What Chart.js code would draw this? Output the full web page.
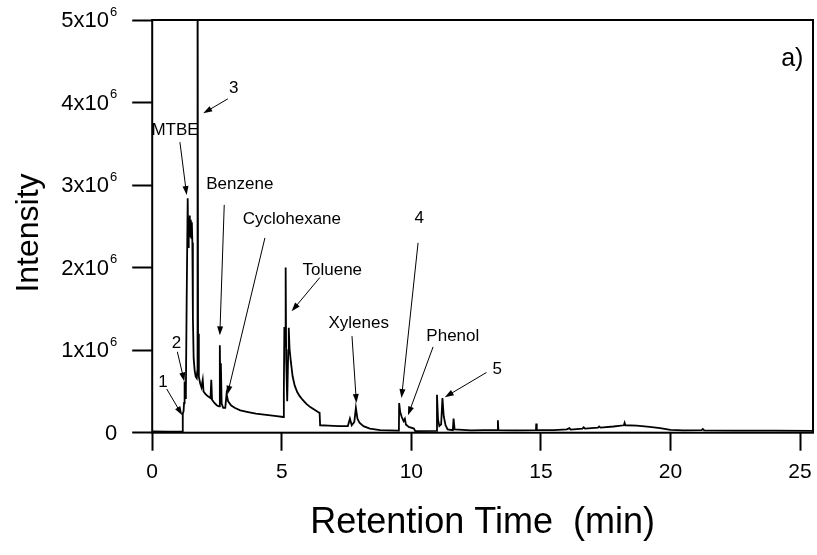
<!DOCTYPE html>
<html>
<head>
<meta charset="utf-8">
<script src="https://cdn.jsdelivr.net/npm/chart.js@4/dist/chart.umd.min.js"></script>
<style>
  html, body { margin: 0; padding: 0; background: #fff; }
  canvas { display: block; }
</style>
</head>
<body>
<canvas id="chart" width="817" height="555"></canvas>
<script>
// GC trace: retention time (min) and detector intensity (counts)
const times = [
  0, 0.6, 1.17, 1.18, 1.21, 1.23, 1.25, 1.27, 1.3, 1.33,
  1.37, 1.39, 1.41, 1.43, 1.45, 1.47, 1.49, 1.51, 1.53, 1.55,
  1.57, 1.6, 1.64, 1.68, 1.72, 1.74, 1.75, 1.77, 1.8, 1.85,
  1.9, 1.95, 1.98, 2.05, 2.15, 2.25, 2.28, 2.31, 2.4, 2.5,
  2.58, 2.61, 2.63, 2.65, 2.68, 2.74, 2.82, 2.87, 2.93, 3.05,
  3.2, 3.4, 3.7, 4.0, 4.4, 4.8, 5.06, 5.08, 5.1, 5.13,
  5.15, 5.17, 5.21, 5.25, 5.27, 5.3, 5.35, 5.42, 5.5, 5.6,
  5.7, 5.8, 5.95, 6.1, 6.25, 6.4, 6.46, 6.48, 6.8, 7.2,
  7.55, 7.63, 7.7, 7.8, 7.86, 7.92, 8.0, 8.15, 8.4, 8.8,
  9.5, 9.52, 9.53, 9.57, 9.63, 9.7, 9.75, 9.79, 9.9, 10.1,
  10.15, 10.97, 10.99, 11.03, 11.08, 11.15, 11.2, 11.25, 11.32, 11.4,
  11.6, 11.63, 11.67, 12.3, 12.8, 13.33, 13.34, 13.36, 14.0, 14.81,
  14.82, 14.84, 15.5, 16.0, 16.1, 16.15, 16.6, 16.65, 16.7, 17.2,
  17.25, 17.3, 17.8, 18.2, 18.23, 18.26, 18.7, 19.2, 19.6, 20.0,
  20.5, 21.2, 21.25, 21.3, 22.5, 24.0, 25.5
];
const intensity = [
  0.015e6, 0.012e6, 0.015e6, 0.23e6, 0.26e6, 0.36e6, 0.62e6, 0.42e6, 0.5e6, 1.6e6,
  2.84e6, 2.25e6, 2.6e6, 2.42e6, 2.63e6, 2.38e6, 2.58e6, 2.36e6, 2.55e6, 2.3e6,
  1.4e6, 0.9e6, 0.75e6, 0.68e6, 0.66e6, 0.75e6, 6.5e6, 1.2e6, 0.68e6, 0.6e6,
  0.55e6, 0.64e6, 0.5e6, 0.47e6, 0.44e6, 0.42e6, 0.64e6, 0.4e6, 0.36e6, 0.33e6,
  0.32e6, 1.06e6, 0.45e6, 0.84e6, 0.35e6, 0.3e6, 0.3e6, 0.47e6, 0.38e6, 0.33e6,
  0.3e6, 0.27e6, 0.25e6, 0.23e6, 0.215e6, 0.2e6, 0.19e6, 0.5e6, 1.28e6, 1.05e6,
  2.0e6, 0.9e6, 0.38e6, 1.0e6, 1.27e6, 1.02e6, 0.86e6, 0.68e6, 0.57e6, 0.49e6,
  0.44e6, 0.4e6, 0.35e6, 0.31e6, 0.28e6, 0.25e6, 0.24e6, 0.09e6, 0.085e6, 0.08e6,
  0.08e6, 0.17e6, 0.09e6, 0.13e6, 0.3e6, 0.17e6, 0.12e6, 0.08e6, 0.05e6, 0.03e6,
  0.025e6, 0.03e6, 0.36e6, 0.25e6, 0.19e6, 0.14e6, 0.17e6, 0.1e6, 0.07e6, 0.05e6,
  0.02e6, 0.022e6, 0.46e6, 0.16e6, 0.08e6, 0.1e6, 0.42e6, 0.2e6, 0.09e6, 0.04e6,
  0.03e6, 0.17e6, 0.04e6, 0.028e6, 0.03e6, 0.03e6, 0.15e6, 0.03e6, 0.028e6, 0.03e6,
  0.11e6, 0.03e6, 0.03e6, 0.04e6, 0.055e6, 0.038e6, 0.05e6, 0.065e6, 0.05e6, 0.06e6,
  0.075e6, 0.062e6, 0.075e6, 0.09e6, 0.12e6, 0.09e6, 0.085e6, 0.07e6, 0.055e6, 0.035e6,
  0.028e6, 0.03e6, 0.045e6, 0.028e6, 0.025e6, 0.024e6, 0.022e6
];

const xTicks = [0, 5, 10, 15, 20, 25];
const yTicks = [0, 1e6, 2e6, 3e6, 4e6, 5e6];
const yTickLabels = ['0', '1x10^6', '2x10^6', '3x10^6', '4x10^6', '5x10^6'];

// peak callouts: label at (t, I), arrow from (fromT, fromI) to (toT, toI)
const callouts = [
  { text: '1', t: 0.42, I: 0.61e6, fromT: 0.56, fromI: 0.53e6, toT: 1.16, toI: 0.21e6 },
  { text: '2', t: 0.94, I: 1.08e6, fromT: 0.97, fromI: 0.98e6, toT: 1.24, toI: 0.62e6 },
  { text: 'MTBE', t: 0.88, I: 3.66e6, fromT: 1.07, fromI: 3.52e6, toT: 1.33, toI: 2.88e6 },
  { text: '3', t: 3.15, I: 4.17e6, fromT: 2.92, fromI: 4.045e6, toT: 1.97, toI: 3.87e6 },
  { text: 'Benzene', t: 3.38, I: 3.01e6, fromT: 2.78, fromI: 2.76e6, toT: 2.61, toI: 1.18e6 },
  { text: 'Cyclohexane', t: 5.39, I: 2.58e6, fromT: 4.35, fromI: 2.36e6, toT: 2.9, toI: 0.46e6 },
  { text: 'Toluene', t: 6.95, I: 1.97e6, fromT: 6.47, fromI: 1.88e6, toT: 5.38, toI: 1.47e6 },
  { text: 'Xylenes', t: 7.97, I: 1.33e6, fromT: 7.71, fromI: 1.17e6, toT: 7.88, toI: 0.36e6 },
  { text: '4', t: 10.3, I: 2.6e6, fromT: 10.26, fromI: 2.3e6, toT: 9.62, toI: 0.42e6 },
  { text: 'Phenol', t: 11.6, I: 1.17e6, fromT: 10.84, fromI: 1.04e6, toT: 9.87, toI: 0.21e6 },
  { text: '5', t: 13.31, I: 0.77e6, fromT: 12.9, fromI: 0.73e6, toT: 11.29, toI: 0.43e6 }
];
const panelLabel = { text: 'a)', t: 24.7, I: 4.53e6 };
const yTitle = 'Intensity';

const FONT = '"Liberation Sans", Arial, Helvetica, sans-serif';

function drawArrow(ctx, x1, y1, x2, y2) {
  const ang = Math.atan2(y2 - y1, x2 - x1);
  const len = 9, half = 3;
  ctx.beginPath();
  ctx.moveTo(x1, y1);
  ctx.lineTo(x2 - Math.cos(ang) * len * 0.8, y2 - Math.sin(ang) * len * 0.8);
  ctx.stroke();
  ctx.beginPath();
  ctx.moveTo(x2, y2);
  ctx.lineTo(x2 - Math.cos(ang) * len - Math.sin(ang) * half, y2 - Math.sin(ang) * len + Math.cos(ang) * half);
  ctx.lineTo(x2 - Math.cos(ang) * len + Math.sin(ang) * half, y2 - Math.sin(ang) * len - Math.cos(ang) * half);
  ctx.closePath();
  ctx.fill();
}

// frame, y labels with exponent, y title and peak callouts
const overlay = {
  id: 'overlay',
  afterDraw(chart) {
    const { ctx, chartArea: a, scales: { x, y } } = chart;
    ctx.save();
    ctx.strokeStyle = '#000';
    ctx.fillStyle = '#000';

    ctx.lineWidth = 2;
    ctx.strokeRect(a.left, a.top, a.right - a.left, a.bottom - a.top);

    ctx.textBaseline = 'middle';
    yTicks.forEach((v, i) => {
      const py = y.getPixelForValue(v);
      const [base, exp] = yTickLabels[i].split('^');
      const right = a.left - 35;
      ctx.textAlign = 'right';
      if (exp) {
        ctx.font = '13px ' + FONT;
        ctx.fillText(exp, right, py - 8);
        const ew = ctx.measureText(exp).width;
        ctx.font = '22px ' + FONT;
        ctx.fillText(base, right - ew - 1, py + 1);
      } else {
        ctx.font = '22px ' + FONT;
        ctx.fillText(base, right, py + 1);
      }
    });

    ctx.save();
    ctx.translate(29, 233);
    ctx.rotate(-Math.PI / 2);
    ctx.textAlign = 'center';
    ctx.font = '32px ' + FONT;
    ctx.fillText(yTitle, 0, 0);
    ctx.restore();

    ctx.lineWidth = 1;
    ctx.font = '17px ' + FONT;
    ctx.textAlign = 'center';
    callouts.forEach(c => {
      ctx.fillText(c.text, x.getPixelForValue(c.t), y.getPixelForValue(c.I));
      drawArrow(ctx,
        x.getPixelForValue(c.fromT), y.getPixelForValue(c.fromI),
        x.getPixelForValue(c.toT), y.getPixelForValue(c.toI));
    });

    ctx.font = '25px ' + FONT;
    ctx.fillText(panelLabel.text, x.getPixelForValue(panelLabel.t), y.getPixelForValue(panelLabel.I));
    ctx.restore();
  }
};

const ctx = document.getElementById('chart');
new Chart(ctx, {
  type: 'line',
  data: {
    datasets: [{
      data: times.map((t, i) => ({ x: t, y: intensity[i] })),
      borderColor: '#000',
      borderWidth: 1.8,
      pointRadius: 0,
      tension: 0,
      fill: false
    }]
  },
  options: {
    responsive: false,
    animation: false,
    devicePixelRatio: 1,
    layout: { padding: { top: 20, right: 4, left: 0, bottom: 0 } },
    plugins: {
      legend: { display: false },
      tooltip: { enabled: false }
    },
    scales: {
      x: {
        type: 'linear',
        min: 0,
        max: 25.5,
        afterBuildTicks: scale => { scale.ticks = xTicks.map(v => ({ value: v })); },
        afterFit: scale => {
          scale.height = 122.3;
          scale.paddingLeft = 0;
          scale.paddingRight = 0;
        },
        border: { display: false },
        grid: {
          drawOnChartArea: false,
          drawTicks: true,
          tickLength: 18,
          tickWidth: 2,
          tickColor: '#000'
        },
        ticks: {
          color: '#000',
          padding: 9,
          maxRotation: 0,
          font: { family: FONT, size: 21 }
        },
        title: {
          display: true,
          text: 'Retention Time  (min)',
          color: '#000',
          font: { family: FONT, size: 36 },
          padding: { top: 0, bottom: 10 }
        }
      },
      y: {
        min: 0,
        max: 5e6,
        afterBuildTicks: scale => { scale.ticks = yTicks.map(v => ({ value: v })); },
        afterFit: scale => {
          scale.width = 152.2;
          scale.paddingTop = 0;
          scale.paddingBottom = 0;
        },
        border: { display: false },
        grid: {
          drawOnChartArea: false,
          drawTicks: true,
          tickLength: 20,
          tickWidth: 2,
          tickColor: '#000'
        },
        ticks: { display: false }
      }
    }
  },
  plugins: [overlay]
});
</script>
</body>
</html>
